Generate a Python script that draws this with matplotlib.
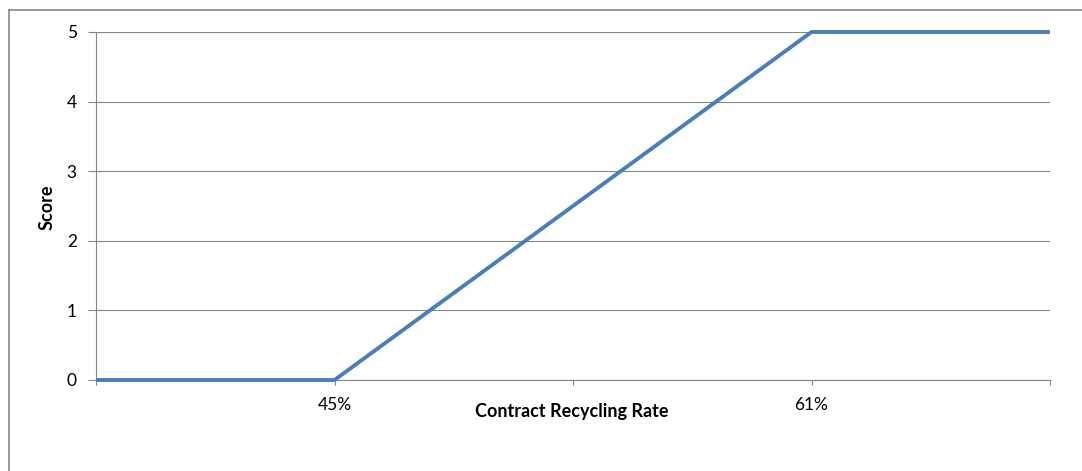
import matplotlib.pyplot as plt
from matplotlib.lines import Line2D

categories = ["", "45%", "", "61%", ""]
scores = [0, 0, 2.5, 5, 5]
yticks = [0, 1, 2, 3, 4, 5]

plt.rcParams['font.family'] = ['Lato', 'DejaVu Sans']
grey = '#868686'
W, H = 1082, 471

fig = plt.figure(figsize=(W / 100, H / 100), dpi=100)
ax = fig.add_axes([96 / W, 1 - 380 / H, (1050 - 96) / W, (380 - 32) / H])

x = list(range(len(categories)))
ax.plot(x, scores, color='#4A7EBB', linewidth=2.8, clip_on=False,
        solid_capstyle='butt', zorder=3)

ax.set_xlim(0, len(categories) - 1)
ax.set_ylim(0, 5)
ax.set_xticks(x)
ax.set_xticklabels(categories, fontsize=12.5)
ax.set_yticks(yticks)
ax.set_yticklabels([str(v) for v in yticks], fontsize=12.5)

ax.grid(axis='y', color=grey, linewidth=0.8)
ax.set_axisbelow(True)
for s in ['top', 'right']:
    ax.spines[s].set_visible(False)
for s in ['left', 'bottom']:
    ax.spines[s].set_color(grey)
    ax.spines[s].set_linewidth(0.8)
ax.tick_params(axis='y', length=5.8, pad=8, color=grey, width=0.8)
ax.tick_params(axis='x', length=3.6, pad=9, color=grey, width=0.8)

fig.text(572 / W, 1 - 412 / H, "Contract Recycling Rate", fontsize=13,
         fontweight='bold', ha='center', va='center')
fig.text(47 / W, 1 - 207 / H, "Score", fontsize=13, fontweight='bold',
         rotation=90, ha='center', va='center')

# outer chart border (runs past the right and bottom edge)
fig.add_artist(Line2D([9 / W, 1], [1 - 10 / H, 1 - 10 / H], color=grey,
                      linewidth=1.2, transform=fig.transFigure))
fig.add_artist(Line2D([9 / W, 9 / W], [0, 1 - 10 / H], color=grey,
                      linewidth=1.2, transform=fig.transFigure))

fig.savefig('out.png', dpi=100)
